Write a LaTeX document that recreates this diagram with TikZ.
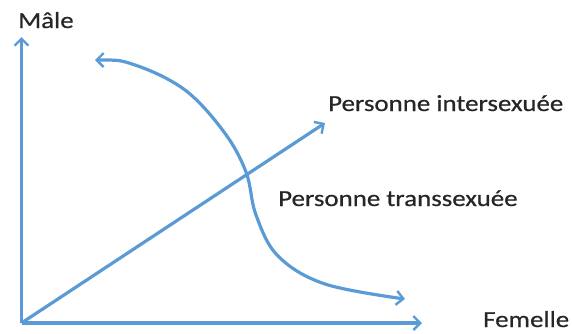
\documentclass[tikz,border=0pt]{standalone}
\usepackage{fontspec}
\setmainfont{Carlito}[FakeStretch=1.17,FakeBold=0.6]
\usetikzlibrary{arrows.meta}
\definecolor{sketchblue}{RGB}{91,155,213}
\tikzset{
  pointe/.tip={Straight Barb[length=7pt,width=14pt,line width=2.4pt]},
  axe/.style={line width=3.2pt,color=sketchblue,-pointe},
  fleche/.style={line width=3.2pt,color=sketchblue,line cap=round,pointe-pointe},
  etiquette/.style={font=\fontsize{23}{25}\selectfont,text=black!85,inner sep=0pt,anchor=base west}
}
\begin{document}
\begin{tikzpicture}[x=1pt,y=-1pt]
\useasboundingbox (0,0) rectangle (572,333);
			\coordinate (o) at (21.5,323);
			\coordinate (m) at (21.5,37);
			\coordinate (f) at (422,323);
			\coordinate (i) at (325,123);
			\coordinate (d) at (95,60);
			\coordinate (a) at (405,299);
			\node[etiquette] (male) at (18,28){Mâle};
			\node[etiquette] (femelle) at (483,327){Femelle};
			\node[etiquette] (inter) at (328,111){Personne intersexuée};
			\node[etiquette] (trans) at (278,206){Personne transsexuée};
			\draw[axe] (o) -- (m);
			\draw[axe] (o) -- (f);
			\draw[axe] (o) -- (i);
			\draw[fleche] plot[smooth,tension=0.6] coordinates {(d) (135,65) (185,90) (224,132) (246,172) (256,215) (278,256) (325,284) (a)};
		\end{tikzpicture}
\end{document}
